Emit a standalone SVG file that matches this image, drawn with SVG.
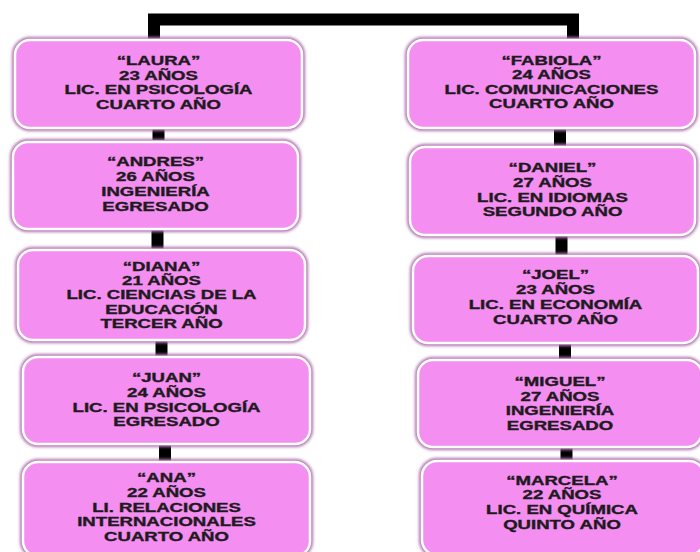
<svg xmlns="http://www.w3.org/2000/svg" width="700" height="552" viewBox="0 0 700 552">
<defs>
<filter id="glow" x="-10%" y="-20%" width="120%" height="140%"><feGaussianBlur stdDeviation="1.8"/></filter>
<style>
.halo{fill:none;stroke:#b070b0;stroke-width:6;filter:url(#glow)}
.box{fill:#F58EF1;stroke:#ffffff;stroke-width:2.5}
.lbl{font-family:"Liberation Sans",Arial,sans-serif;font-weight:bold;font-size:12px;fill:#1e1a1e;stroke:#1e1a1e;stroke-width:0.35;text-anchor:middle}
.con{fill:none;stroke:#000;stroke-width:12}
</style>
</defs>
<rect width="700" height="552" fill="#ffffff"/>
<g id="connectors">
<path class="con" d="M154,42 V19.5 H573 V42" stroke-linejoin="miter"/>
<path class="con" d="M158.5,125 V140"/>
<path class="con" d="M157.5,230 V250"/>
<path class="con" d="M161.5,340 V357"/>
<path class="con" d="M165,444 V462"/>
<path class="con" d="M560,127 V147"/>
<path class="con" d="M561.5,234 V256"/>
<path class="con" d="M565,342 V360"/>
<path class="con" d="M566.5,446 V461"/>
</g>
<g id="laura">
<rect class="halo" x="15" y="40" width="287" height="88" rx="15"/>
<rect class="box" x="15" y="40" width="287" height="88" rx="15"/>
<text class="lbl" transform="translate(158.5,0) scale(1.55,1)"><tspan x="0" y="65">“LAURA”</tspan><tspan x="0" y="80">23 AÑOS</tspan><tspan x="0" y="94">LIC. EN PSICOLOGÍA</tspan><tspan x="0" y="109">CUARTO AÑO</tspan></text>
</g>
<g id="andres">
<rect class="halo" x="13" y="142" width="285" height="87" rx="15"/>
<rect class="box" x="13" y="142" width="285" height="87" rx="15"/>
<text class="lbl" transform="translate(155.5,0) scale(1.55,1)"><tspan x="0" y="166">“ANDRES”</tspan><tspan x="0" y="181">26 AÑOS</tspan><tspan x="0" y="196">INGENIERÍA</tspan><tspan x="0" y="211">EGRESADO</tspan></text>
</g>
<g id="diana">
<rect class="halo" x="18" y="250" width="287" height="90" rx="15"/>
<rect class="box" x="18" y="250" width="287" height="90" rx="15"/>
<text class="lbl" transform="translate(161.5,0) scale(1.55,1)"><tspan x="0" y="271">“DIANA”</tspan><tspan x="0" y="285">21 AÑOS</tspan><tspan x="0" y="299">LIC. CIENCIAS DE LA</tspan><tspan x="0" y="314">EDUCACIÓN</tspan><tspan x="0" y="328">TERCER AÑO</tspan></text>
</g>
<g id="juan">
<rect class="halo" x="23" y="357" width="287" height="87" rx="15"/>
<rect class="box" x="23" y="357" width="287" height="87" rx="15"/>
<text class="lbl" transform="translate(166.5,0) scale(1.55,1)"><tspan x="0" y="382">“JUAN”</tspan><tspan x="0" y="397">24 AÑOS</tspan><tspan x="0" y="412">LIC. EN PSICOLOGÍA</tspan><tspan x="0" y="426">EGRESADO</tspan></text>
</g>
<g id="ana">
<rect class="halo" x="23" y="462" width="287" height="94" rx="15"/>
<rect class="box" x="23" y="462" width="287" height="94" rx="15"/>
<text class="lbl" transform="translate(166.5,0) scale(1.55,1)"><tspan x="0" y="482">“ANA”</tspan><tspan x="0" y="497">22 AÑOS</tspan><tspan x="0" y="512">LI. RELACIONES</tspan><tspan x="0" y="526">INTERNACIONALES</tspan><tspan x="0" y="541">CUARTO AÑO</tspan></text>
</g>
<g id="fabiola">
<rect class="halo" x="408" y="40" width="287" height="88" rx="15"/>
<rect class="box" x="408" y="40" width="287" height="88" rx="15"/>
<text class="lbl" transform="translate(551.5,0) scale(1.55,1)"><tspan x="0" y="65">“FABIOLA”</tspan><tspan x="0" y="79">24 AÑOS</tspan><tspan x="0" y="94">LIC. COMUNICACIONES</tspan><tspan x="0" y="108">CUARTO AÑO</tspan></text>
</g>
<g id="daniel">
<rect class="halo" x="410" y="147" width="285" height="88" rx="15"/>
<rect class="box" x="410" y="147" width="285" height="88" rx="15"/>
<text class="lbl" transform="translate(552.5,0) scale(1.55,1)"><tspan x="0" y="172">“DANIEL”</tspan><tspan x="0" y="187">27 AÑOS</tspan><tspan x="0" y="202">LIC. EN IDIOMAS</tspan><tspan x="0" y="216">SEGUNDO AÑO</tspan></text>
</g>
<g id="joel">
<rect class="halo" x="413" y="256" width="285" height="87" rx="15"/>
<rect class="box" x="413" y="256" width="285" height="87" rx="15"/>
<text class="lbl" transform="translate(555.5,0) scale(1.55,1)"><tspan x="0" y="279">“JOEL”</tspan><tspan x="0" y="294">23 AÑOS</tspan><tspan x="0" y="309">LIC. EN ECONOMÍA</tspan><tspan x="0" y="324">CUARTO AÑO</tspan></text>
</g>
<g id="miguel">
<rect class="halo" x="418" y="360" width="284" height="87" rx="15"/>
<rect class="box" x="418" y="360" width="284" height="87" rx="15"/>
<text class="lbl" transform="translate(560,0) scale(1.55,1)"><tspan x="0" y="386">“MIGUEL”</tspan><tspan x="0" y="401">27 AÑOS</tspan><tspan x="0" y="415">INGENIERÍA</tspan><tspan x="0" y="430">EGRESADO</tspan></text>
</g>
<g id="marcela">
<rect class="halo" x="422" y="461" width="282" height="94" rx="15"/>
<rect class="box" x="422" y="461" width="282" height="94" rx="15"/>
<text class="lbl" transform="translate(562,0) scale(1.55,1)"><tspan x="0" y="485">“MARCELA”</tspan><tspan x="0" y="499">22 AÑOS</tspan><tspan x="0" y="514">LIC. EN QUÍMICA</tspan><tspan x="0" y="529">QUINTO AÑO</tspan></text>
</g>
</svg>
